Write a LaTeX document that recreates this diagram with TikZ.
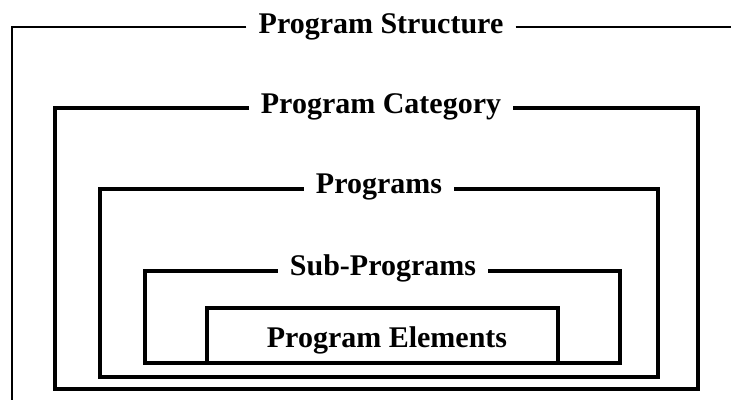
\documentclass[tikz,border=0pt]{standalone}
\usepackage{fontspec}
\setmainfont{Liberation Serif}
\begin{document}
\begin{tikzpicture}[x=1pt,y=-1pt,
  frame/.style={line width=3.2pt, line join=miter},
  title/.style={anchor=base, inner xsep=12pt, inner ysep=0pt,
    font=\bfseries\fontsize{30}{36}\selectfont}]
\useasboundingbox (0,0) rectangle (731,400);

% Program Structure: open on the right and at the bottom
\node[title] (ps) at (381,33) {Program Structure};
\coordinate (psL) at (12,27);
\coordinate (psR) at (731,27);
\coordinate (psB) at (12,400);
\draw[frame, line width=2.5pt] (ps.west |- psL) -- (psL) -- (psB);
\draw[frame, line width=2.5pt] (ps.east |- psR) -- (psR);

% Program Category
\node[title] (pc) at (381,113) {Program Category};
\coordinate (pcTL) at (55,108);
\coordinate (pcBR) at (698,389);
\draw[frame] (pc.west |- pcTL) -- (pcTL) |- (pcBR) -- (pcBR |- pcTL) -- (pc.east |- pcTL);

% Programs
\node[title] (pg) at (379,193) {Programs};
\coordinate (pgTL) at (100,189);
\coordinate (pgBR) at (658,377);
\draw[frame] (pg.west |- pgTL) -- (pgTL) |- (pgBR) -- (pgBR |- pgTL) -- (pg.east |- pgTL);

% Sub-Programs
\node[title] (sp) at (383,275) {Sub-Programs};
\coordinate (spTL) at (145,271);
\coordinate (spBR) at (620,363);
\draw[frame] (sp.west |- spTL) -- (spTL) |- (spBR) -- (spBR |- spTL) -- (sp.east |- spTL);

% Program Elements: standing on the Sub-Programs floor
\node[title] (pe) at (387,347) {Program Elements};
\coordinate (peBL) at (207,363);
\coordinate (peTR) at (558,308);
\draw[frame] (peBL) |- (peTR) -- (peTR |- peBL);
\end{tikzpicture}
\end{document}
